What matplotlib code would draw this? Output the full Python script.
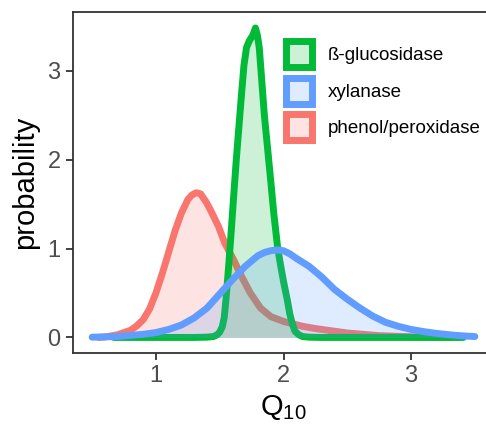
import matplotlib
matplotlib.use("Agg")
import matplotlib.pyplot as plt
from matplotlib.patches import Patch
from matplotlib.colors import to_rgba

plt.rcParams['font.family'] = ['Liberation Sans', 'DejaVu Sans']
plt.rcParams['mathtext.default'] = 'regular'

# density curves (x = Q10, y = probability)
gluc_x = [0.67, 1.30, 1.40, 1.45, 1.48, 1.50, 1.52, 1.535, 1.55, 1.57, 1.59, 1.61, 1.63,
          1.65, 1.67, 1.69, 1.71, 1.73, 1.76, 1.78, 1.795, 1.81, 1.83, 1.85, 1.875, 1.90,
          1.925, 1.955, 1.98, 2.00, 2.03, 2.05, 2.07, 2.09, 2.12, 2.15, 2.20, 2.30, 3.41]
gluc_y = [0.0, 0.0, 0.003, 0.01, 0.03, 0.06, 0.12, 0.22, 0.44, 0.80, 1.19, 1.60, 2.00,
          2.36, 2.72, 3.06, 3.26, 3.33, 3.40, 3.48, 3.40, 3.26, 2.88, 2.50, 2.13, 1.76,
          1.38, 1.00, 0.79, 0.63, 0.42, 0.26, 0.15, 0.07, 0.03, 0.01, 0.003, 0.0, 0.0]

xyl_x = [0.50, 0.70, 0.90, 1.00, 1.10, 1.20, 1.30, 1.40, 1.50, 1.60, 1.70, 1.80, 1.85,
         1.90, 1.95, 2.00, 2.05, 2.10, 2.20, 2.30, 2.40, 2.50, 2.60, 2.70, 2.80, 2.90,
         3.00, 3.10, 3.20, 3.30, 3.40, 3.50]
xyl_y = [0.003, 0.01, 0.035, 0.055, 0.09, 0.14, 0.22, 0.33, 0.49, 0.65, 0.80, 0.92, 0.955,
         0.975, 0.985, 0.975, 0.94, 0.89, 0.80, 0.68, 0.54, 0.43, 0.33, 0.24, 0.17, 0.125,
         0.09, 0.065, 0.045, 0.03, 0.018, 0.01]

phen_x = [0.55, 0.60, 0.70, 0.80, 0.85, 0.90, 0.95, 1.00, 1.05, 1.10, 1.15, 1.20, 1.25,
          1.28, 1.315, 1.35, 1.395, 1.425, 1.49, 1.54, 1.61, 1.67, 1.74, 1.82, 1.90, 2.00,
          2.15, 2.25, 2.50, 2.75, 3.00, 3.30]
phen_y = [0.0, 0.005, 0.03, 0.08, 0.13, 0.20, 0.32, 0.50, 0.72, 0.96, 1.20, 1.40, 1.55,
          1.60, 1.627, 1.615, 1.52, 1.44, 1.25, 1.06, 0.87, 0.69, 0.50, 0.33, 0.235, 0.18,
          0.125, 0.10, 0.05, 0.02, 0.008, 0.0]

labels = ['ß-glucosidase', 'xylanase', 'phenol/peroxidase']
colors = ['#00BA38', '#619CFF', '#F8766D']
x_ticks = [1, 2, 3]
y_ticks = [0, 1, 2, 3]

fig = plt.figure(figsize=(4.86, 4.25), dpi=100)
ax = fig.add_axes([73/486, 72/425, 421/486, 341/425])

# drawing order: red, then green, then blue (each fill + outline)
curves = [(phen_x, phen_y, colors[2]), (gluc_x, gluc_y, colors[0]), (xyl_x, xyl_y, colors[1])]
z = 2
for cx, cy, c in curves:
    ax.fill_between(cx, 0, cy, color=c, alpha=0.2, lw=0, zorder=z)
    ax.plot(cx, cy, color=c, lw=5, solid_capstyle='round', solid_joinstyle='round', zorder=z + 0.5)
    z += 1

ax.set_xlim(0.35, 3.65)
ax.set_ylim(-0.175, 3.66)
ax.set_xticks(x_ticks)
ax.set_yticks(y_ticks)
ax.tick_params(labelsize=17, labelcolor='#4D4D4D', color='#333333', length=5, width=1.3, pad=4)
for s in ax.spines.values():
    s.set_color('#333333')
    s.set_linewidth(1.3)

ax.set_xlabel('Q$_{10}$', fontsize=21, labelpad=4)
ax.set_ylabel('probability', fontsize=21, labelpad=6)

handles = [Patch(facecolor=to_rgba(c, 0.2), edgecolor=c, lw=5) for c in colors]
leg = ax.legend(handles, labels, loc='upper left', bbox_to_anchor=(286/486, 1 - 41/425),
                bbox_transform=fig.transFigure, frameon=False, fontsize=13.5,
                handlelength=1.39, handleheight=1.76, labelspacing=0.56,
                handletextpad=0.85, borderpad=0, borderaxespad=0)

fig.savefig('out.png', dpi=100)
